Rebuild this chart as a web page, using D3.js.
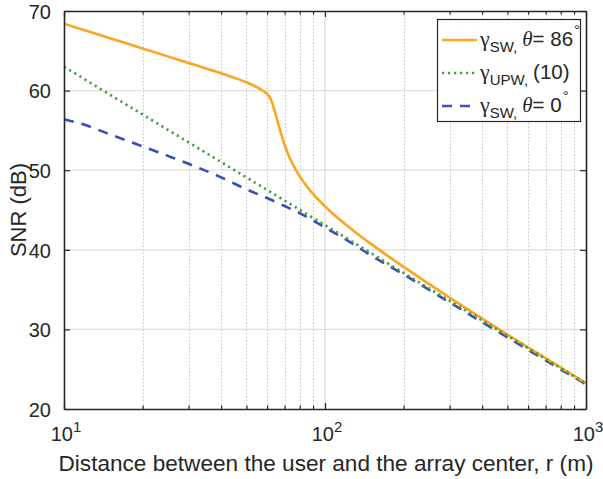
<!DOCTYPE html>
<html>
<head>
<meta charset="utf-8">
<script src="https://cdn.jsdelivr.net/npm/d3@7/dist/d3.min.js"></script>
<style>
  html, body { margin: 0; padding: 0; background: #fff; }
  svg { display: block; font-family: "Liberation Sans", Arial, sans-serif; }
</style>
</head>
<body>
<svg id="chart" width="603" height="479"></svg>
<script>
// ---- data ----
const rOrange   = [10, 12, 15, 20, 25, 30, 35, 40, 45, 50, 55, 58, 60.5, 62, 64.3, 66.5, 69.2, 72, 74.5, 77, 80, 85, 90, 100, 110, 125, 150, 175, 200, 250, 300, 400, 500, 700, 1000];
const snrOrange = [68.4, 67.58, 66.58, 65.3, 64.3, 63.48, 62.79, 62.17, 61.6, 61.05, 60.4, 59.95, 59.45, 58.92, 57.34, 55.59, 53.69, 52.14, 51.03, 50.13, 49.22, 48.01, 47.02, 45.46, 44.22, 42.72, 40.74, 39.17, 37.85, 35.72, 34.0, 31.35, 29.35, 26.4, 23.25];

const rGreen    = [10, 20, 50, 100, 200, 500, 1000];
const snrGreen  = [63.0, 57.0, 49.1, 43.1, 37.1, 29.2, 23.2];

const rBlue     = [10, 12, 15, 20, 25, 30, 40, 50, 60, 70, 80, 100, 120, 150, 200, 300, 400, 500, 700, 1000];
const snrBlue   = [56.4, 55.7, 54.5, 53.0, 51.8, 50.8, 49.1, 47.6, 46.5, 45.5, 44.6, 42.8, 41.3, 39.3, 36.9, 33.4, 30.9, 29.0, 26.1, 23.1];

const yTicks = [20, 30, 40, 50, 60, 70];
const xDecades = [10, 100, 1000];
const xDecadeExp = ["1", "2", "3"];
const xMinor = [20, 30, 40, 50, 60, 70, 80, 90, 200, 300, 400, 500, 600, 700, 800, 900];

const legendEntries = [
  { sub: "SW,", tail: "86", color: "#FBA520", dash: null },
  { sub: "UPW,", tail: null, color: "#3E9F3E", dash: "2.2,3.8" },
  { sub: "SW,", tail: "0", color: "#3A4DBD", dash: "10,8" }
];

// ---- layout ----
const L = 64, R = 586, T = 11, B = 409;
const svg = d3.select("#chart");
const x = d3.scaleLog().domain([10, 1000]).range([L, R]);
const y = d3.scaleLinear().domain([20, 70]).range([B, T]);
const axisColor = "#262626";

// grid
const grid = svg.append("g");
grid.selectAll("line.hmaj").data(yTicks.slice(1, -1)).enter().append("line")
  .attr("x1", L).attr("x2", R).attr("y1", d => y(d)).attr("y2", d => y(d))
  .attr("stroke", "#dedede").attr("stroke-width", 1.2);
grid.selectAll("line.vmin").data(xMinor).enter().append("line")
  .attr("x1", d => Math.round(x(d)) + 0.5).attr("x2", d => Math.round(x(d)) + 0.5)
  .attr("y1", T).attr("y2", B)
  .attr("stroke", "#c4c4c4").attr("stroke-width", 1).attr("stroke-dasharray", "1.5,2");
grid.selectAll("line.vmaj").data([100]).enter().append("line")
  .attr("x1", d => x(d)).attr("x2", d => x(d)).attr("y1", T).attr("y2", B)
  .attr("stroke", "#dedede").attr("stroke-width", 1.4);

// curves
const line = d3.line().x(d => x(d[0])).y(d => y(d[1])).curve(d3.curveMonotoneX);
const plot = svg.append("g");
plot.append("path").datum(d3.zip(rBlue, snrBlue)).attr("d", line)
  .attr("fill", "none").attr("stroke", legendEntries[2].color).attr("stroke-width", 2.6)
  .attr("stroke-dasharray", legendEntries[2].dash);
plot.append("path").datum(d3.zip(rOrange, snrOrange)).attr("d", line)
  .attr("fill", "none").attr("stroke", legendEntries[0].color).attr("stroke-width", 2.6);
plot.append("path").datum(d3.zip(rGreen, snrGreen)).attr("d", line)
  .attr("fill", "none").attr("stroke", legendEntries[1].color).attr("stroke-width", 2.6)
  .attr("stroke-dasharray", legendEntries[1].dash);

// axes box with inward ticks
const axes = svg.append("g");
const xAxisB = d3.axisBottom(x).tickValues(xDecades.concat(xMinor)).tickFormat("").tickSizeInner(-5).tickSizeOuter(0);
const gxb = axes.append("g").attr("transform", `translate(0,${B})`).call(xAxisB);
gxb.selectAll(".tick line").attr("y2", d => xDecades.includes(d) ? -6 : -3.5);
const xAxisT = d3.axisTop(x).tickValues(xDecades.concat(xMinor)).tickFormat("").tickSizeInner(-5).tickSizeOuter(0);
const gxt = axes.append("g").attr("transform", `translate(0,${T})`).call(xAxisT);
gxt.selectAll(".tick line").attr("y2", d => xDecades.includes(d) ? 6 : 3.5);
const yAxisL = d3.axisLeft(y).tickValues(yTicks).tickSizeInner(-6).tickSizeOuter(0).tickPadding(13);
const gyl = axes.append("g").attr("transform", `translate(${L},0)`).call(yAxisL);
const yAxisR = d3.axisRight(y).tickValues(yTicks).tickFormat("").tickSizeInner(-6).tickSizeOuter(0);
const gyr = axes.append("g").attr("transform", `translate(${R},0)`).call(yAxisR);
axes.selectAll(".domain").attr("stroke", axisColor).attr("stroke-width", 1.6);
axes.selectAll(".tick line").attr("stroke", axisColor).attr("stroke-width", 1.2);
gyl.selectAll(".tick text").attr("font-size", 20).attr("fill", axisColor)
  .attr("font-family", "Liberation Sans, Arial, sans-serif").attr("dy", "0.36em");

// x tick labels 10^n
const xl = svg.append("g").attr("fill", axisColor);
xDecades.forEach((d, i) => {
  const t = xl.append("text").attr("x", x(d) + 2).attr("y", 441).attr("text-anchor", "middle")
    .attr("font-size", 20);
  t.append("tspan").text("10");
  t.append("tspan").attr("font-size", 15).attr("dy", -9).text(xDecadeExp[i]);
});

// axis labels
svg.append("text").attr("x", (L + R) / 2 + 1).attr("y", 471).attr("text-anchor", "middle")
  .attr("font-size", 22.6).attr("fill", axisColor)
  .text("Distance between the user and the array center, r (m)");
svg.append("text").attr("transform", `translate(26,${(T + B) / 2}) rotate(-90)`)
  .attr("text-anchor", "middle").attr("font-size", 22).attr("fill", axisColor)
  .text("SNR (dB)");

// legend
const lg = svg.append("g");
lg.append("rect").attr("x", 437.5).attr("y", 19.5).attr("width", 143).attr("height", 102)
  .attr("fill", "#fff").attr("stroke", axisColor).attr("stroke-width", 1.2);
const rowY = [40, 73, 106];
legendEntries.forEach((e, i) => {
  const yy = rowY[i];
  lg.append("line").attr("x1", 442).attr("x2", 477).attr("y1", yy).attr("y2", yy)
    .attr("stroke", e.color).attr("stroke-width", 2.6).attr("stroke-dasharray", e.dash);
  const t = lg.append("text").attr("x", 480).attr("y", yy + 6).attr("font-size", 20.5).attr("fill", axisColor);
  t.append("tspan").attr("font-family", "Liberation Serif, serif").attr("font-size", 22).text("γ");
  t.append("tspan").attr("font-size", 15).attr("dy", 6).text(e.sub);
  if (e.tail !== null) {
    t.append("tspan").attr("dy", -6).attr("dx", 5).attr("font-family", "Liberation Serif, serif")
      .attr("font-style", "italic").attr("font-size", 21).text("θ");
    t.append("tspan").text("= " + e.tail);
    t.append("tspan").attr("font-size", 15).attr("dy", -11).attr("dx", 1).text("°");
  } else {
    t.append("tspan").attr("dy", -6).attr("dx", 5).text("(10)");
  }
});
</script>
</body>
</html>
